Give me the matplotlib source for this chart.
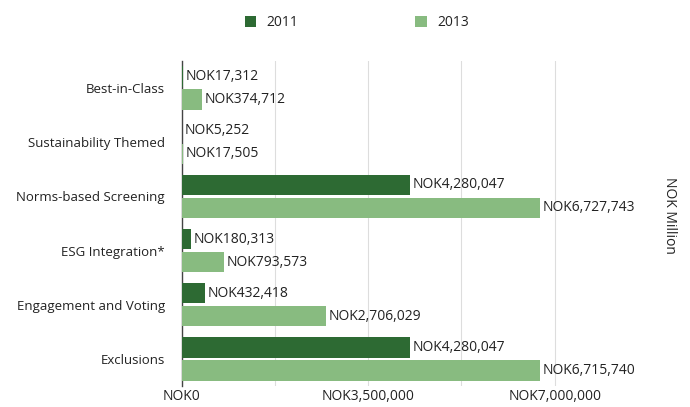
import matplotlib
matplotlib.use("Agg")
import matplotlib.pyplot as plt
import numpy as np

categories = ["Best-in-Class", "Sustainability Themed", "Norms-based Screening",
              "ESG Integration*", "Engagement and Voting", "Exclusions"]
values_2011 = [17312, 5252, 4280047, 180313, 432418, 4280047]
values_2013 = [374712, 17505, 6727743, 793573, 2706029, 6715740]
series_names = ["2011", "2013"]
tick_values = [0, 3500000, 7000000]
tick_labels = ["NOK0", "NOK3,500,000", "NOK7,000,000"]

plt.rcParams['font.family'] = ['Open Sans', 'DejaVu Sans']
dark = "#2d6a33"
light = "#88bb80"
txt = "#222222"

fig = plt.figure(figsize=(6.9, 4.07), dpi=100)
ax = fig.add_axes([181.7/690, 21/407, (640-181.7)/690, (386-61)/407])

y = np.arange(len(categories))
h = 0.375
off = 0.213
b1 = ax.barh(y - off, values_2011, height=h, color=dark, label=series_names[0], zorder=3)
b2 = ax.barh(y + off, values_2013, height=h, color=light, label=series_names[1], zorder=3)

for vals, ys in ((values_2011, y - off), (values_2013, y + off)):
    for v, yy in zip(vals, ys):
        ax.annotate(f"NOK{v:,}", (v, yy), xytext=(2, 0), textcoords="offset points",
                    ha="left", va="center", fontsize=10, color=txt, zorder=4)

ax.set_ylim(len(categories) - 0.5, -0.5)
ax.set_xlim(0, 8.6e6)
ax.set_yticks(y)
ax.set_yticklabels(categories, fontsize=9.5, color=txt)
ax.set_xticks(tick_values)
ax.set_xticklabels(tick_labels, fontsize=10, color=txt)
ax.set_xticks([1750000, 5250000], minor=True)
ax.grid(axis="x", which="both", color="#dddddd", linewidth=0.8, zorder=0)
ax.tick_params(axis="y", length=0, pad=12)
ax.tick_params(axis="x", which="both", length=0, pad=2)
for s in ["top", "right", "bottom"]:
    ax.spines[s].set_visible(False)
ax.spines["left"].set_color("#444444")
ax.spines["left"].set_linewidth(1.0)

fig.text(670/690, 1 - 215/407, "NOK Million", rotation=270, ha="center", va="center",
         fontsize=10, color=txt)

fig.legend(handles=[b1, b2], labels=series_names, loc="center", bbox_to_anchor=(357/690, 1 - 23/407),
           ncol=2, frameon=False, fontsize=10, handlelength=0.8, handleheight=0.8,
           columnspacing=8.4, handletextpad=0.8, labelcolor=txt)

fig.savefig("out.png", dpi=100)
